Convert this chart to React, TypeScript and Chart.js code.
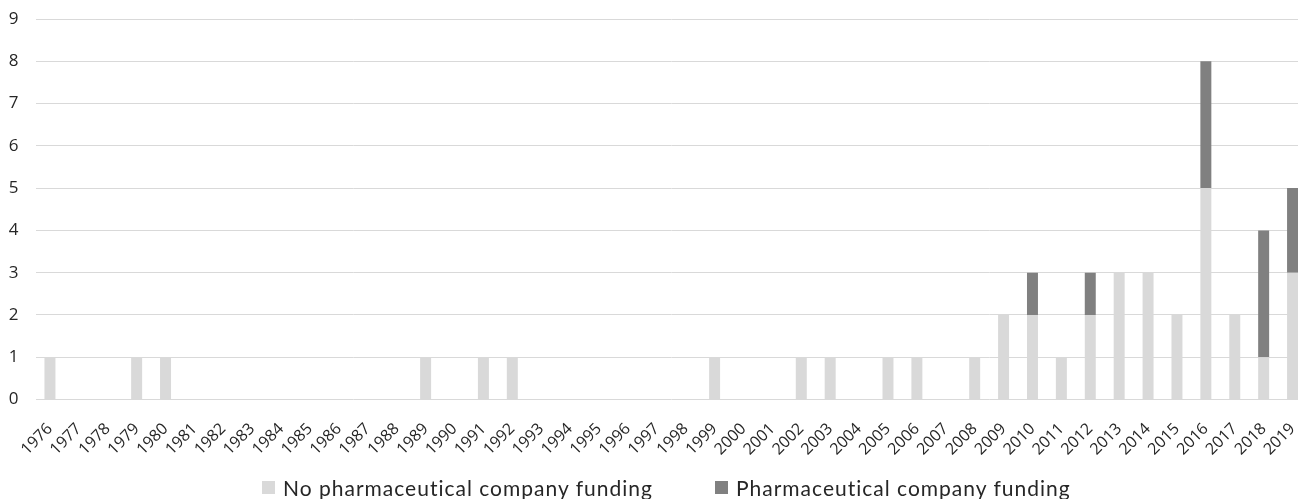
import React, { useEffect, useRef } from "react";
import { Chart, registerables } from "chart.js";

Chart.register(...registerables);

const years: string[] = [
  "1976", "1977", "1978", "1979", "1980", "1981", "1982", "1983", "1984", "1985",
  "1986", "1987", "1988", "1989", "1990", "1991", "1992", "1993", "1994", "1995",
  "1996", "1997", "1998", "1999", "2000", "2001", "2002", "2003", "2004", "2005",
  "2006", "2007", "2008", "2009", "2010", "2011", "2012", "2013", "2014", "2015",
  "2016", "2017", "2018", "2019",
];

const noPharmaFunding: number[] = [
  1, 0, 0, 1, 1, 0, 0, 0, 0, 0,
  0, 0, 0, 1, 0, 1, 1, 0, 0, 0,
  0, 0, 0, 1, 0, 0, 1, 1, 0, 1,
  1, 0, 1, 2, 2, 1, 2, 3, 3, 2,
  5, 2, 1, 3,
];

const pharmaFunding: number[] = [
  0, 0, 0, 0, 0, 0, 0, 0, 0, 0,
  0, 0, 0, 0, 0, 0, 0, 0, 0, 0,
  0, 0, 0, 0, 0, 0, 0, 0, 0, 0,
  0, 0, 0, 0, 1, 0, 1, 0, 0, 0,
  3, 0, 3, 2,
];

const seriesNames: string[] = ["No pharmaceutical company funding", "Pharmaceutical company funding"];
const seriesColors: string[] = ["#d9d9d9", "#808080"];

const yTicks: number[] = [0, 1, 2, 3, 4, 5, 6, 7, 8, 9];

export default function App() {
  const canvasRef = useRef<HTMLCanvasElement | null>(null);

  useEffect(() => {
    if (!canvasRef.current) return;
    const chart = new Chart(canvasRef.current, {
      type: "bar",
      data: {
        labels: years,
        datasets: [
          {
            label: seriesNames[0],
            data: noPharmaFunding,
            backgroundColor: seriesColors[0],
            borderWidth: 0,
            barPercentage: 0.38,
            categoryPercentage: 1,
          },
          {
            label: seriesNames[1],
            data: pharmaFunding,
            backgroundColor: seriesColors[1],
            borderWidth: 0,
            barPercentage: 0.38,
            categoryPercentage: 1,
          },
        ],
      },
      options: {
        animation: false,
        responsive: false,
        maintainAspectRatio: false,
        layout: { padding: { top: 19, right: 0, bottom: 0, left: 0 } },
        plugins: {
          legend: { display: false },
          tooltip: { enabled: false },
        },
        scales: {
          x: {
            stacked: true,
            grid: { display: false, drawTicks: false },
            border: { display: false },
            ticks: {
              autoSkip: false,
              minRotation: 45,
              maxRotation: 45,
              padding: 20,
              color: "#262626",
              font: { family: "'Open Sans', sans-serif", size: 16 },
            },
            afterFit: (scale: any) => {
              scale.height = 99.5;
              scale.paddingLeft = 0;
              scale.paddingRight = 0;
            },
          },
          y: {
            stacked: true,
            min: 0,
            max: 9,
            afterBuildTicks: (scale: any) => {
              scale.ticks = yTicks.map((v) => ({ value: v }));
            },
            grid: { color: "#d9d9d9", lineWidth: 1, drawTicks: false },
            border: { display: false },
            ticks: {
              padding: 17,
              color: "#262626",
              font: { family: "'Open Sans', sans-serif", size: 17 },
            },
            afterFit: (scale: any) => {
              scale.width = 35.5;
              scale.paddingTop = 0;
              scale.paddingBottom = 0;
            },
          },
        },
      },
    });
    return () => chart.destroy();
  }, []);

  const legendItem = (i: number, left: number) => (
    <div
      key={i}
      style={{
        position: "absolute",
        left,
        top: 474,
        height: 26,
        display: "flex",
        alignItems: "center",
        fontFamily: "Lato, 'Open Sans', sans-serif",
        fontSize: 21,
        letterSpacing: 1,
        color: "#262626",
        whiteSpace: "nowrap",
      }}
    >
      <span
        style={{
          display: "inline-block",
          width: 13,
          height: 13,
          background: seriesColors[i],
          marginRight: 8,
        }}
      />
      <span>{seriesNames[i]}</span>
    </div>
  );

  return (
    <div
      style={{
        position: "fixed",
        left: 0,
        top: 0,
        width: 1298,
        height: 499,
        overflow: "hidden",
        background: "#ffffff",
      }}
    >
      <canvas ref={canvasRef} width={1307} height={499} style={{ display: "block" }} />
      {legendItem(0, 262)}
      {legendItem(1, 715)}
    </div>
  );
}
